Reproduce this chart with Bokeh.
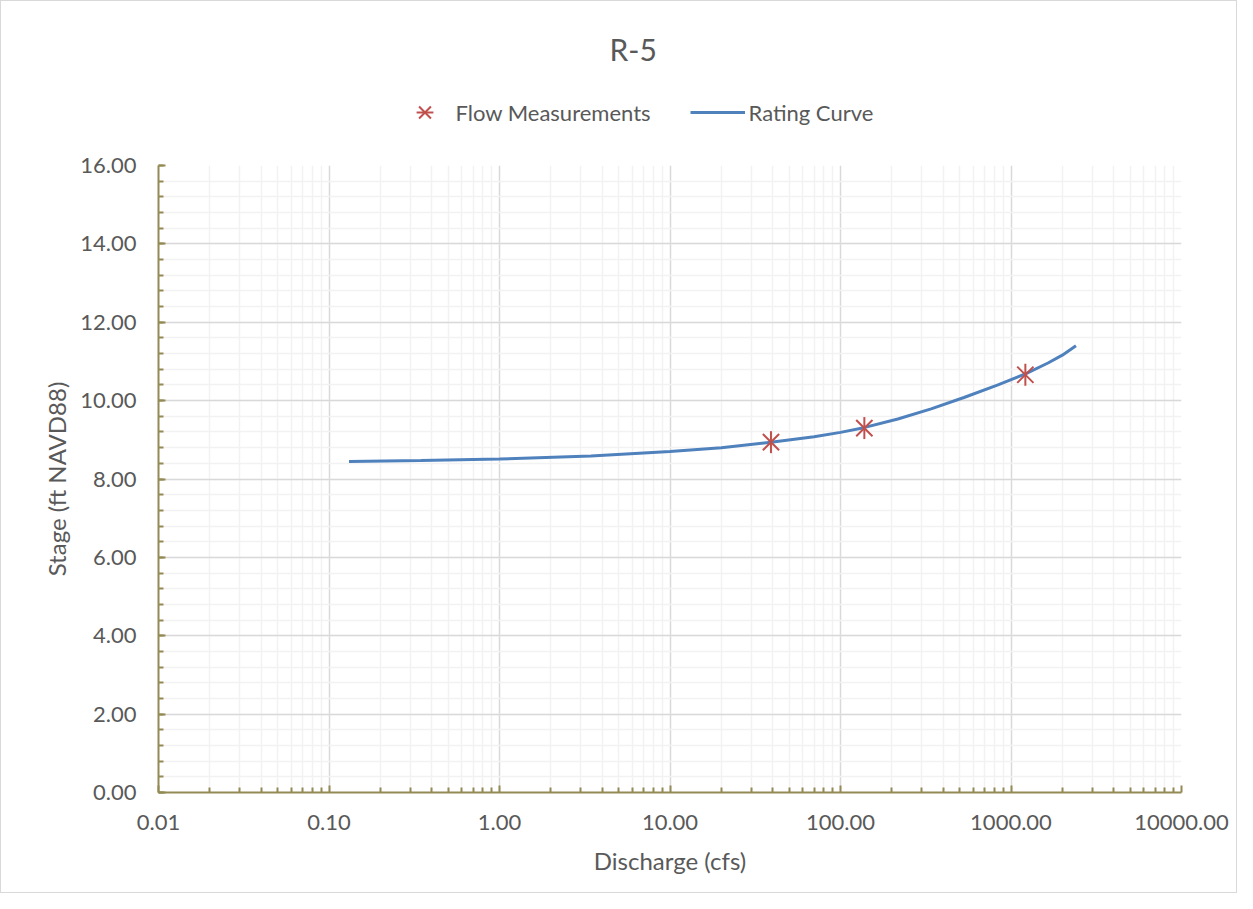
import math
from bokeh.plotting import figure
from bokeh.layouts import column
from bokeh.models import (FixedTicker, NumeralTickFormatter, Legend, LegendItem,
                          Range1d, SingleIntervalTicker, ColumnDataSource)
from bokeh.embed import file_html
from bokeh.resources import INLINE

# ---- data ----
meas_q = [39.1, 138.0, 1214.0]
meas_h = [8.94, 9.30, 10.66]

curve_q = [0.131, 0.346, 1.0, 3.44, 10.0, 20.0, 39.1, 70.0, 100.0, 137.0,
           217.0, 340.0, 530.0, 839.0, 1225.0, 1648.0, 2000.0, 2404.0]
curve_h = [8.445, 8.475, 8.51, 8.59, 8.70, 8.80, 8.94, 9.08, 9.19, 9.31,
           9.53, 9.79, 10.08, 10.40, 10.69, 10.96, 11.16, 11.40]

x_ticks = [0.01, 0.1, 1, 10, 100, 1000, 10000]
title_text = "R-5"
x_label = "Discharge (cfs)"
y_label = "Stage (ft NAVD88)"
series_names = ["Flow Measurements", "Rating Curve"]

FONT = "Lato"
TXT = "#595959"
AXC = "#948A54"
RED = "#C0504D"
BLUE = "#4F81BD"
W = 1235

src_c = ColumnDataSource(dict(q=curve_q, h=curve_h))
src_m = ColumnDataSource(dict(q=meas_q, h=meas_h))

# ---------- header: title + legend (its ranges keep the series out of view) ----------
head = figure(width=W, height=144, x_range=Range1d(-2, -1), y_range=Range1d(-2, -1),
              output_backend="svg", toolbar_location=None,
              x_axis_location=None, y_axis_location=None,
              min_border_left=0, min_border_right=0,
              min_border_top=80, min_border_bottom=0)
head.grid.visible = False
head.outline_line_color = None
head.title.text = title_text
head.title.align = "left"
head.title.offset = 451
head.title.text_font = FONT
head.title.text_font_size = "30px"
head.title.text_font_style = "normal"
head.title.text_color = TXT
head.title.standoff = 29

k_x = head.scatter("q", "h", source=src_m, marker="x", line_color=RED, line_width=2)
k_d = head.scatter("q", "h", source=src_m, marker="dash", angle=math.pi / 2,
                   line_color=RED, line_width=2)
k_l = head.line("q", "h", source=src_c, line_color=BLUE, line_width=3)

legend = Legend(
    items=[LegendItem(label=series_names[0], renderers=[k_x, k_d]),
           LegendItem(label=series_names[1], renderers=[k_l])],
    location=(238.5, 12), orientation="horizontal",
    glyph_width=55, glyph_height=42, label_height=42,
    label_standoff=4, padding=0, margin=0, spacing=39,
    border_line_color=None, background_fill_alpha=0,
    label_text_font=FONT, label_text_font_size="22px",
    label_text_color=TXT)
head.add_layout(legend)

# ---------- main chart ----------
p = figure(width=W, height=747, x_axis_type="log",
           x_range=Range1d(0.01, 10000), y_range=Range1d(0, 16),
           output_backend="svg", toolbar_location=None,
           min_border_left=157, min_border_right=55,
           min_border_top=20, min_border_bottom=100)
p.outline_line_color = None

p.line("q", "h", source=src_c, line_color=BLUE, line_width=3)
p.scatter("q", "h", source=src_m, marker="x", size=23, line_color=RED, line_width=2)
p.scatter("q", "h", source=src_m, marker="dash", size=22, angle=math.pi / 2,
          line_color=RED, line_width=2)

minor = [m * 10.0 ** e for e in range(-2, 4) for m in range(2, 10)]
p.xaxis.ticker = FixedTicker(ticks=x_ticks, minor_ticks=minor)
p.xaxis.formatter = NumeralTickFormatter(format="0.00")
p.yaxis.ticker = SingleIntervalTicker(interval=2, num_minor_ticks=5)
p.yaxis.formatter = NumeralTickFormatter(format="0.00")

for ax in (p.xaxis[0], p.yaxis[0]):
    ax.axis_line_color = AXC
    ax.axis_line_width = 2
    ax.major_tick_line_color = AXC
    ax.major_tick_line_width = 2
    ax.minor_tick_line_color = AXC
    ax.minor_tick_line_width = 2
    ax.major_tick_in = 7
    ax.major_tick_out = 0
    ax.minor_tick_in = 5
    ax.minor_tick_out = 0
    ax.major_label_text_font = FONT
    ax.major_label_text_font_size = "22px"
    ax.major_label_text_color = TXT
    ax.axis_label_text_font = FONT
    ax.axis_label_text_font_size = "24px"
    ax.axis_label_text_font_style = "normal"
    ax.axis_label_text_color = TXT

p.xaxis.axis_label = x_label
p.yaxis.axis_label = y_label
p.xaxis.major_label_standoff = 22
p.yaxis.major_label_standoff = 22
p.xaxis.axis_label_standoff = 13
p.yaxis.axis_label_standoff = 6

for g in (p.xgrid[0], p.ygrid[0]):
    g.grid_line_color = "#d9d9d9"
    g.grid_line_width = 1.5
    g.minor_grid_line_color = "#f2f2f2"
    g.minor_grid_line_width = 1.5
p.xgrid.ticker = p.xaxis.ticker
p.ygrid.ticker = p.yaxis.ticker

layout = column(head, p, spacing=0)
layout.styles = {"border": "1px solid #d9d9d9"}

open("out.html", "w").write(file_html(layout, INLINE))
